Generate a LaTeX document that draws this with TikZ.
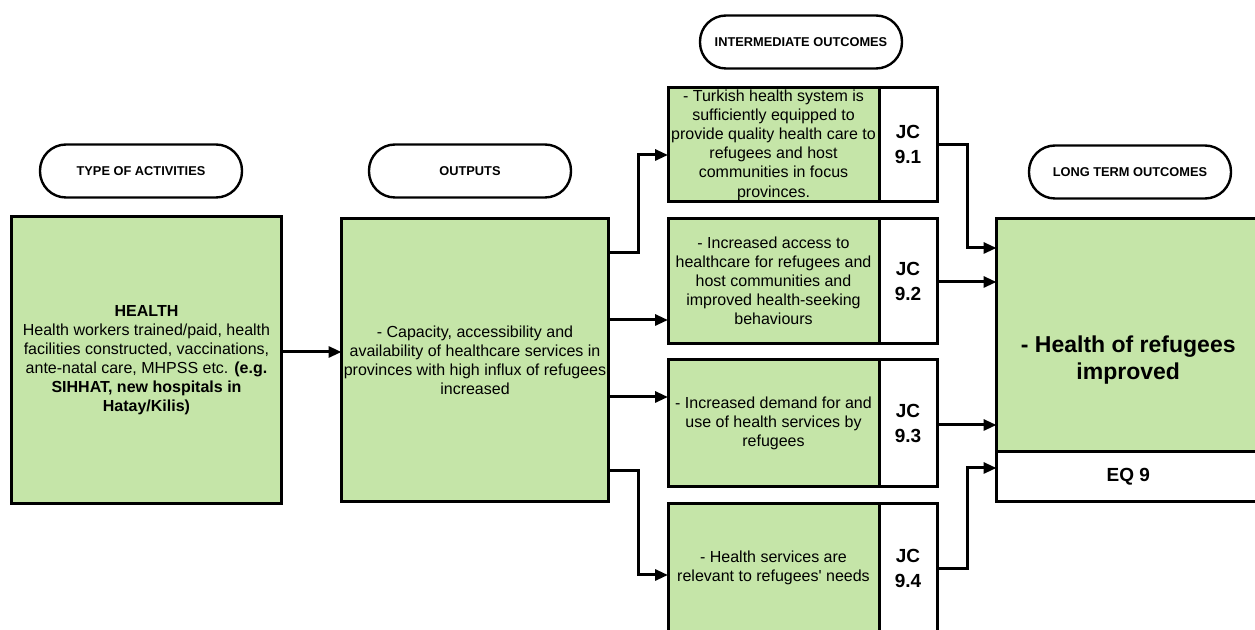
\documentclass[tikz,border=0pt]{standalone}
\usepackage{fontspec}
\setmainfont{Liberation Sans}
\usetikzlibrary{arrows.meta}
\definecolor{hgreen}{RGB}{197,229,168}

\begin{document}
\begin{tikzpicture}[x=0.5pt,y=-0.5pt,
lab/.style={draw,line width=1.2pt,rounded corners=13pt,minimum width=101pt,minimum height=26.5pt,font=\fontsize{6.4}{7.5}\selectfont\bfseries},
gbox/.style={draw,line width=1.5pt,outer sep=0pt,fill=hgreen,inner sep=1pt,align=center,font=\fontsize{8}{9.55}\selectfont},
wbox/.style={draw,line width=1.5pt,outer sep=0pt,fill=white,inner sep=1pt,align=center,font=\fontsize{9.5}{12.5}\selectfont\bfseries},
arr/.style={line width=1.5pt,-{Triangle[length=6.5pt,width=5.5pt]}}]
\useasboundingbox(0,0)rectangle(1255,630);

\node[lab](t1)at(141,171){TYPE OF ACTIVITIES};
\node[lab](t2)at(470,171){OUTPUTS};
\node[lab](t3)at(801,42){INTERMEDIATE OUTCOMES};
\node[lab](t4)at(1130,172){LONG TERM OUTCOMES};

\node[gbox,minimum width=135pt,minimum height=143.5pt](a1)at(146.5,360){\textbf{HEALTH}\\Health workers trained/paid, health\\facilities constructed, vaccinations,\\ante-natal care, MHPSS etc. \textbf{(e.g.}\\\textbf{SIHHAT, new hospitals in}\\\textbf{Hatay/Kilis)}};
\node[gbox,minimum width=133.5pt,minimum height=141.5pt](out)at(475,360){- Capacity, accessibility and\\availability of healthcare services in\\provinces with high influx of refugees\\increased};

\node[gbox,minimum width=105.5pt,minimum height=57pt](g1)at(773.5,144.5){\raisebox{-2.5pt}[0pt][0pt]{\begin{tabular}{@{}c@{}}- Turkish health system is\\sufficiently equipped to\\provide quality health care to\\refugees and host\\communities in focus\\provinces.\end{tabular}}};
\node[gbox,minimum width=105.5pt,minimum height=62.5pt](g2)at(773.5,281){- Increased access to\\healthcare for refugees and\\host communities and\\improved health-seeking\\behaviours};
\node[gbox,minimum width=105.5pt,minimum height=63.5pt](g3)at(773.5,423){- Increased demand for and\\use of health services by\\refugees};
\node[gbox,minimum width=105.5pt,minimum height=64pt](g4)at(773.5,568){- Health services are\\relevant to refugees\textquotesingle{} needs};

\node[wbox,anchor=west,minimum width=29pt,minimum height=57pt](j1)at(g1.east){JC\\9.1};
\node[wbox,anchor=west,minimum width=29pt,minimum height=62.5pt](j2)at(g2.east){JC\\9.2};
\node[wbox,anchor=west,minimum width=29pt,minimum height=63.5pt](j3)at(g3.east){JC\\9.3};
\node[wbox,anchor=west,minimum width=29pt,minimum height=64pt](j4)at(g4.east){JC\\9.4};

\node[gbox,minimum width=131.75pt,minimum height=141.5pt,font=\fontsize{11.5}{13.5}\selectfont\bfseries](lt)at(1128.25,360){- Health of refugees\\improved};
\node[wbox,anchor=south,minimum width=131.75pt,minimum height=24.75pt](eq)at(lt.south){EQ 9};

\draw[arr](a1.east|-0,352)--(out.west|-0,352);
\draw[arr](out.east|-0,253)--(638,253)--(638,155)--(g1.west|-0,155);
\draw[arr](out.east|-0,320)--(g2.west|-0,320);
\draw[arr](out.east|-0,397)--(g3.west|-0,397);
\draw[arr](out.east|-0,471)--(638,471)--(638,575)--(g4.west|-0,575);

\draw[arr](j1.east|-0,145)--(967,145)--(967,248)--(lt.west|-0,248);
\draw[arr](j2.east|-0,282)--(lt.west|-0,282);
\draw[arr](j3.east|-0,425)--(lt.west|-0,425);
\draw[arr](j4.east|-0,569)--(967,569)--(967,468)--(eq.west|-0,468);

\end{tikzpicture}
\end{document}
